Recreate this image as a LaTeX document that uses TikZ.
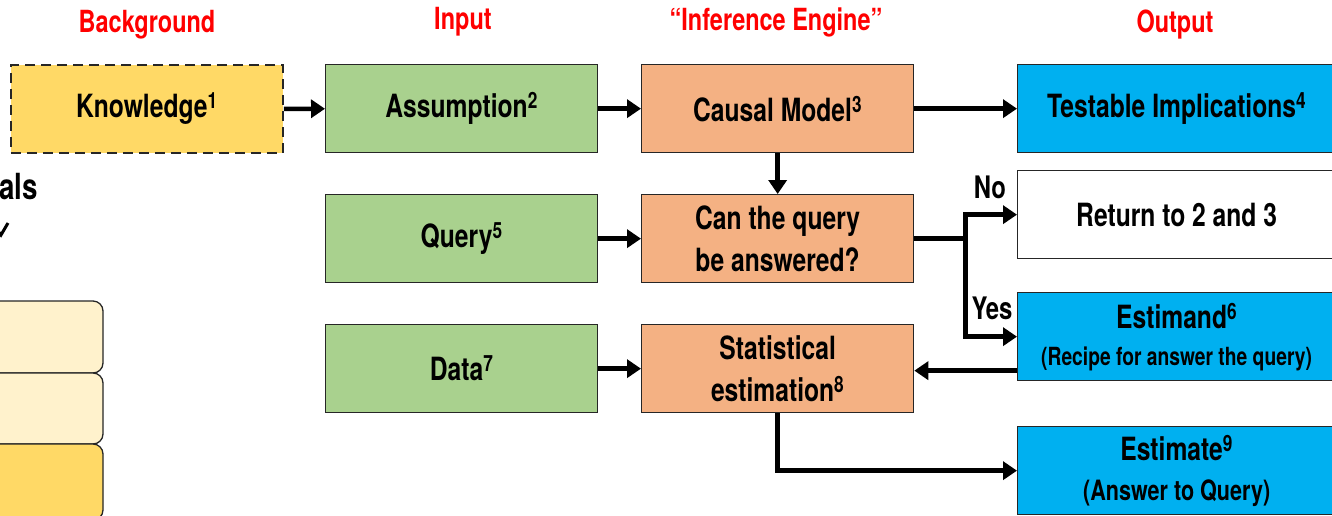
\documentclass[tikz,border=0pt]{standalone}
\usepackage{fontspec}
\setmainfont{TeX Gyre Heros}[FakeStretch=0.77]
\usetikzlibrary{arrows.meta}
\definecolor{kyel}{HTML}{FFD966}
\definecolor{ingreen}{HTML}{A9D18E}
\definecolor{engor}{HTML}{F4B183}
\definecolor{outblue}{HTML}{00B0F0}
\definecolor{cream}{HTML}{FFF2CC}
\definecolor{hdred}{HTML}{FF0000}
\begin{document}
\begin{tikzpicture}[x=1pt,y=-1pt,
  box/.style={draw=black!85, line width=1.3pt, minimum width=272pt, minimum height=88pt,
    anchor=north west, inner sep=0pt, align=center, font=\bfseries\fontsize{32}{42}\selectfont},
  hdr/.style={text=hdred, font=\bfseries\fontsize{30.5}{36}\selectfont},
  arr/.style={line width=4.5pt, -{Triangle[length=14pt,width=18pt]}},
  lbl/.style={font=\bfseries\fontsize{31}{36}\selectfont},
  sidebox/.style={draw=black!85, line width=1.3pt, rounded corners=10pt}]
\useasboundingbox (0,0) rectangle (1332,515);
\clip (0,0) rectangle (1332,515);
% headers
\node[hdr] (hback) at (147,25) {Background};
\node[hdr] (hin) at (463,22) {Input};
\node[hdr] (heng) at (776,22) {“Inference Engine”};
\node[hdr] (hout) at (1175,25) {Output};
% left cropped part
\node[font=\bfseries\fontsize{36}{40}\selectfont, anchor=east, inner sep=0pt] (als) at (38,187) {als};
\draw[line width=3pt] (-8,223) -- (1,235) -- (8,223);
\draw[sidebox, fill=cream] (-20,301) rectangle (103,373);
\draw[sidebox, fill=cream] (-20,373) rectangle (103,444);
\draw[sidebox, fill=kyel] (-20,444) rectangle (103,520);
% boxes
\node[box, fill=kyel, line width=1.8pt, dash pattern=on 10pt off 6pt] (know) at (10,64) {Knowledge\textsuperscript{1}};
\node[box, fill=ingreen] (assum) at (325,64) {Assumption\textsuperscript{2}};
\node[box, fill=engor] (causal) at (641,64) {Causal Model\textsuperscript{3}};
\node[box, fill=outblue, minimum width=318pt] (test) at (1017,64) {Testable Implications\textsuperscript{4}};
\node[box, fill=ingreen] (query) at (325,194) {Query\textsuperscript{5}};
\node[box, fill=engor] (can) at (641,194) {Can the query\\be answered?};
\node[box, fill=white, minimum width=318pt] (ret) at (1017,170) {Return to 2 and 3};
\node[box, fill=ingreen] (data) at (325,324) {Data\textsuperscript{7}};
\node[box, fill=engor] (stat) at (641,324) {Statistical\\estimation\textsuperscript{8}};
\node[box, fill=outblue, minimum width=318pt] (estd) at (1017,292) {Estimand\textsuperscript{6}\\[-5pt]{\fontsize{25}{30}\selectfont (Recipe for answer the query)}};
\node[box, fill=outblue, minimum width=318pt] (estm) at (1017,426) {Estimate\textsuperscript{9}\\[-2pt]{\fontsize{28}{32}\selectfont (Answer to Query)}};
% arrows
\draw[arr] (know) -- (assum);
\draw[arr] (assum) -- (causal);
\draw[arr] (causal) -- (test);
\draw[arr] (causal) -- (can);
\draw[arr] (query) -- (can);
\draw[arr] (data) -- (stat);
\draw[line width=4.5pt] (can.east) -- ++(51,0) coordinate (split);
\draw[line width=4.5pt] ([yshift=2.25pt]split |- ret.west) -- ([yshift=-2.25pt]split |- estd.west);
\draw[arr] ([xshift=-2.25pt]split |- ret.west) -- (ret.west);
\draw[arr] ([xshift=-2.25pt]split |- estd.west) -- (estd.west);
\draw[arr] ([yshift=-34pt]estd.west) -- ([yshift=-34pt]estd.west -| stat.east);
\draw[arr, line join=miter] (stat.south) |- (estm.west);
\node[lbl] (no) at (990,187) {No};
\node[lbl] (yes) at (992,308) {Yes};
\end{tikzpicture}
\end{document}
